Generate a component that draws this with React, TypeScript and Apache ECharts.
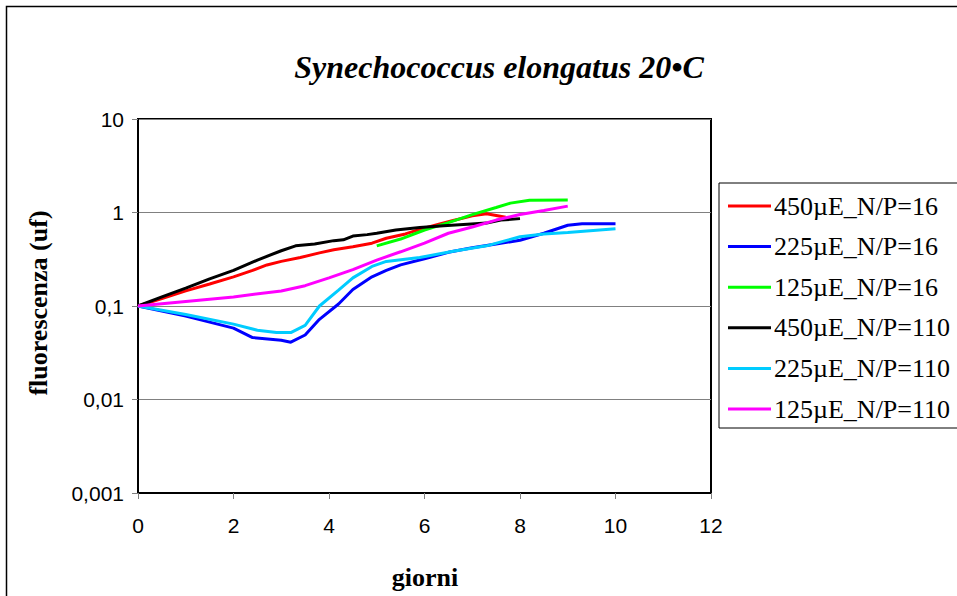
import React, { useEffect, useRef } from "react";
import * as echarts from "echarts";

const seriesNames = [
  "450µE_N/P=16",
  "225µE_N/P=16",
  "125µE_N/P=16",
  "450µE_N/P=110",
  "225µE_N/P=110",
  "125µE_N/P=110",
];
const seriesColors = ["#ff0000", "#0000ff", "#00ff00", "#000000", "#00ccff", "#ff00ff"];

const red450_16 = [
  [0, 0.1], [0.5, 0.12], [1, 0.145], [1.5, 0.172], [2, 0.205], [2.4, 0.24], [2.7, 0.275],
  [3, 0.3], [3.4, 0.33], [3.8, 0.37], [4.1, 0.4], [4.5, 0.43], [4.9, 0.47], [5.2, 0.53],
  [5.6, 0.59], [5.9, 0.66], [6.3, 0.75], [6.6, 0.82], [7.0, 0.92], [7.3, 0.97], [7.5, 0.93], [7.7, 0.89],
];
const blue225_16 = [
  [0, 0.1], [1, 0.078], [2, 0.058], [2.4, 0.046], [3, 0.043], [3.2, 0.041], [3.5, 0.049],
  [3.8, 0.072], [4.2, 0.105], [4.5, 0.15], [4.9, 0.205], [5.2, 0.24], [5.5, 0.275], [6, 0.32],
  [6.5, 0.375], [7, 0.42], [7.5, 0.46], [8, 0.505], [8.5, 0.6], [9, 0.73], [9.3, 0.76], [10, 0.76],
];
const green125_16 = [
  [5, 0.44], [5.5, 0.52], [6, 0.65], [6.5, 0.78], [7, 0.95], [7.5, 1.13], [7.8, 1.26],
  [8.2, 1.35], [9, 1.36],
];
const black450_110 = [
  [0, 0.1], [0.5, 0.125], [1, 0.155], [1.5, 0.195], [2, 0.24], [2.5, 0.31], [3, 0.39],
  [3.3, 0.44], [3.7, 0.46], [4.1, 0.5], [4.3, 0.51], [4.5, 0.56], [4.8, 0.58], [5, 0.6],
  [5.4, 0.65], [5.9, 0.69], [6.4, 0.72], [6.9, 0.75], [7.3, 0.77], [7.6, 0.83], [8, 0.86],
];
const cyan225_110 = [
  [0, 0.1], [1, 0.081], [2, 0.064], [2.5, 0.055], [2.9, 0.052], [3.2, 0.052], [3.5, 0.062],
  [3.8, 0.1], [4.2, 0.148], [4.5, 0.2], [4.9, 0.265], [5.2, 0.3], [5.9, 0.33], [6.6, 0.385],
  [7.3, 0.44], [7.7, 0.5], [8, 0.55], [8.5, 0.59], [9, 0.61], [10, 0.67],
];
const magenta125_110 = [
  [0, 0.1], [1, 0.112], [2, 0.125], [3, 0.145], [3.5, 0.165], [4, 0.2], [4.5, 0.245],
  [5, 0.31], [5.5, 0.38], [6, 0.47], [6.5, 0.6], [7, 0.7], [7.5, 0.83], [8, 0.95],
  [8.5, 1.05], [9, 1.17],
];
const seriesData = [red450_16, blue225_16, green125_16, black450_110, cyan225_110, magenta125_110];

const titleText = "Synechococcus elongatus 20•C";
const xAxisTitle = "giorni";
const yAxisTitle = "fluorescenza (uf)";

function fmtY(v: number): string {
  if (v >= 1) return String(Math.round(v));
  const d = Math.round(-Math.log10(v));
  return v.toFixed(d).replace(".", ",");
}

export default function App() {
  const ref = useRef<HTMLDivElement>(null);
  useEffect(() => {
    if (!ref.current) return;
    const chart = echarts.init(ref.current, null, { renderer: "svg" });
    const serif = "Liberation Serif";
    const sans = "Liberation Sans";
    chart.setOption({
      animation: false,
      backgroundColor: "#ffffff",
      title: {
        text: titleText,
        left: 499,
        top: 51,
        textAlign: "center",
        padding: 0,
        textStyle: {
          fontFamily: serif,
          fontSize: 32,
          fontWeight: "bold",
          fontStyle: "italic",
          color: "#000",
        },
      },
      grid: {
        left: 138,
        top: 119,
        width: 573,
        height: 374,
        show: true,
        borderColor: "#000",
        borderWidth: 2,
        backgroundColor: "transparent",
      },
      xAxis: {
        type: "value",
        min: 0,
        max: 12,
        interval: 2,
        axisLine: { show: true, onZero: false, lineStyle: { color: "#000", width: 2 } },
        axisTick: { show: true, inside: false, length: 6, lineStyle: { color: "#808080", width: 1 } },
        axisLabel: { color: "#000", fontFamily: sans, fontSize: 21, margin: 22 },
        splitLine: { show: false },
      },
      yAxis: {
        type: "log",
        logBase: 10,
        min: 0.001,
        max: 10,
        axisLine: { show: true, lineStyle: { color: "#000", width: 2 } },
        axisTick: { show: true, inside: false, length: 6, lineStyle: { color: "#808080", width: 1 } },
        axisLabel: { color: "#000", fontFamily: sans, fontSize: 21, margin: 14, formatter: fmtY },
        splitLine: { show: true, lineStyle: { color: "#808080", width: 1 } },
        minorTick: { show: false },
      },
      legend: {
        orient: "vertical",
        left: 719,
        top: 183,
        padding: [10, 10, 6, 9],
        itemGap: 14.6,
        itemWidth: 43,
        itemHeight: 3,
        icon: "rect",
        borderColor: "#000",
        borderWidth: 1,
        backgroundColor: "#fff",
        textStyle: { fontFamily: serif, fontSize: 26, color: "#000", padding: [0, 0, 0, -2] },
        data: seriesNames,
      },
      graphic: [
        {
          type: "rect",
          shape: { x: 6.5, y: 6.5, width: 1200, height: 1200 },
          style: { fill: "none", stroke: "#000", lineWidth: 1.5 },
          silent: true,
        },
        {
          type: "text",
          x: 425,
          y: 577,
          style: {
            text: xAxisTitle,
            fontFamily: serif,
            fontSize: 26,
            fontWeight: "bold",
            fill: "#000",
            align: "center",
            verticalAlign: "middle",
          },
        },
        {
          type: "text",
          x: 38,
          y: 303,
          rotation: Math.PI / 2,
          style: {
            text: yAxisTitle,
            fontFamily: serif,
            fontSize: 26,
            fontWeight: "bold",
            fill: "#000",
            align: "center",
            verticalAlign: "middle",
          },
        },
      ],
      series: seriesNames.map((name, i) => ({
        name,
        type: "line",
        data: seriesData[i],
        showSymbol: false,
        symbol: "none",
        smooth: false,
        color: seriesColors[i],
        lineStyle: { color: seriesColors[i], width: 3 },
        z: 3 + i,
      })),
    });
    return () => chart.dispose();
  }, []);
  return (
    <div
      ref={ref}
      style={{ position: "fixed", left: 0, top: 0, width: 957, height: 596 }}
    />
  );
}
